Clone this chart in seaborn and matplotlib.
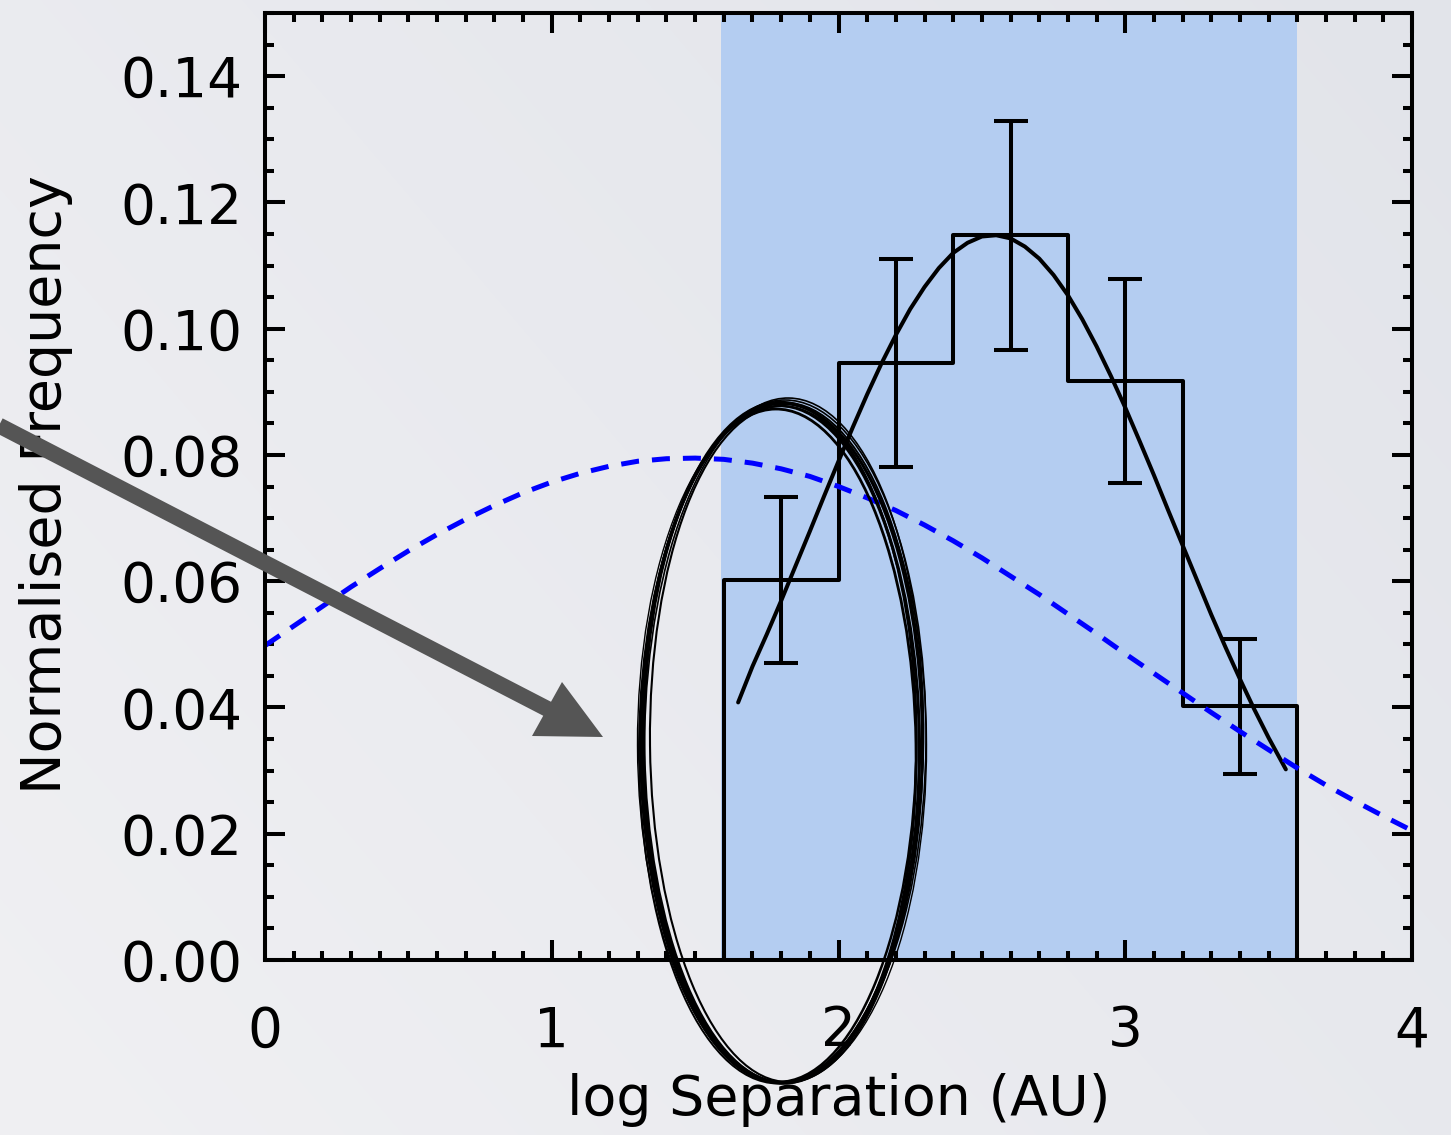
import numpy as np
import matplotlib
matplotlib.use("Agg")
import matplotlib.pyplot as plt
import seaborn as sns
from matplotlib.patches import Polygon, Ellipse
from matplotlib.lines import Line2D
from matplotlib.transforms import IdentityTransform
from matplotlib.ticker import MultipleLocator, FixedLocator

# ---------------- data ----------------
bin_edges = [1.6, 2.0, 2.4, 2.8, 3.2, 3.6]
bin_centers = [1.8, 2.2, 2.6, 3.0, 3.4]
bin_freq = [0.0602, 0.0946, 0.1148, 0.0917, 0.0402]
err_upper = [0.0734, 0.1111, 0.1329, 0.1079, 0.0508]
err_lower = [0.0471, 0.0781, 0.0966, 0.0755, 0.0295]

fit_x = [1.65, 1.70, 1.75, 1.80, 1.85, 1.90, 1.95, 2.00, 2.05, 2.10,
         2.15, 2.20, 2.25, 2.30, 2.35, 2.40, 2.45, 2.50, 2.55, 2.60,
         2.65, 2.70, 2.75, 2.80, 2.85, 2.90, 2.95, 3.00, 3.05, 3.10,
         3.15, 3.20, 3.25, 3.30, 3.35, 3.40, 3.45, 3.50, 3.56]
fit_y = [0.0408, 0.0465, 0.0516, 0.0569, 0.0624, 0.0679, 0.0735, 0.0790, 0.0844, 0.0896,
         0.0945, 0.0990, 0.1031, 0.1066, 0.1096, 0.1120, 0.1136, 0.1146, 0.1148, 0.1143,
         0.1130, 0.1111, 0.1085, 0.1053, 0.1015, 0.0972, 0.0925, 0.0875, 0.0822, 0.0768,
         0.0712, 0.0657, 0.0602, 0.0547, 0.0495, 0.0445, 0.0397, 0.0352, 0.0302]

field_x = [0.0, 0.1, 0.2, 0.3, 0.4, 0.5, 0.6, 0.7, 0.8, 0.9,
           1.0, 1.1, 1.2, 1.3, 1.4, 1.5, 1.6, 1.7, 1.8, 1.9,
           2.0, 2.1, 2.2, 2.3, 2.4, 2.5, 2.6, 2.7, 2.8, 2.9,
           3.0, 3.1, 3.2, 3.3, 3.4, 3.5, 3.6, 3.7, 3.8, 3.9, 4.0]
field_y = [0.0498, 0.0529, 0.0560, 0.0591, 0.0620, 0.0648, 0.0674, 0.0698, 0.0720, 0.0740,
           0.0757, 0.0771, 0.0782, 0.0790, 0.0794, 0.0795, 0.0793, 0.0787, 0.0778, 0.0766,
           0.0750, 0.0732, 0.0712, 0.0689, 0.0664, 0.0637, 0.0608, 0.0579, 0.0548, 0.0517,
           0.0485, 0.0454, 0.0423, 0.0392, 0.0362, 0.0333, 0.0304, 0.0277, 0.0252, 0.0228, 0.0205]

survey_range = [1.59, 3.6]
x_ticks = [0, 1, 2, 3, 4]
y_ticks = [0.00, 0.02, 0.04, 0.06, 0.08, 0.10, 0.12, 0.14]
x_label = "log Separation (AU)"
y_label = "Normalised Frequency"

# ---------------- style ----------------
sns.set_theme(style="ticks")
plt.rcParams['font.family'] = ['DejaVu Sans']

W, H = 1451, 1135
fig = plt.figure(figsize=(W / 100, H / 100), dpi=100)

# soft gradient background
yy, xx = np.mgrid[0:H, 0:W]
t = 0.6 * (xx / W) + 0.4 * (1 - yy / H)
light = np.array([240, 240, 243]) / 255.0
dark = np.array([226, 228, 234]) / 255.0
bg = light[None, None, :] * (1 - t[..., None]) + dark[None, None, :] * t[..., None]
fig.figimage(bg, xo=0, yo=0, zorder=-1)

ax = fig.add_axes([265 / W, (H - 960) / H, (1412 - 265) / W, (960 - 13) / H])
ax.set_facecolor("none")

ax.axvspan(survey_range[0], survey_range[1], color="#b4cdf1", lw=0, zorder=0)

sns.histplot(x=bin_centers, weights=bin_freq, bins=bin_edges, element="step",
             fill=False, color="black", linewidth=2.9, ax=ax, zorder=2)
# outer edges of the histogram down to the baseline
ax.vlines([bin_edges[0], bin_edges[-1]], 0, [bin_freq[0], bin_freq[-1]],
          color="black", linewidth=2.9, zorder=2)

yerr = [np.array(bin_freq) - np.array(err_lower), np.array(err_upper) - np.array(bin_freq)]
ax.errorbar(bin_centers, bin_freq, yerr=yerr, fmt="none", ecolor="black",
            elinewidth=2.9, capsize=12, capthick=2.9, zorder=3)

sns.lineplot(x=fit_x, y=fit_y, color="black", linewidth=2.9, ax=ax, zorder=3)
sns.lineplot(x=field_x, y=field_y, color="#0000ff", linewidth=3.6, ax=ax, zorder=4)
ax.lines[-1].set_dashes([3.6, 2.6])

ax.set_xlim(0, 4)
ax.set_ylim(0, 0.15)
ax.xaxis.set_major_locator(FixedLocator(x_ticks))
ax.xaxis.set_minor_locator(MultipleLocator(0.1))
ax.set_yticks(y_ticks)
ax.set_yticklabels([f"{v:.2f}" for v in y_ticks])
ax.yaxis.set_minor_locator(MultipleLocator(0.005))

ax.tick_params(which="both", direction="in", top=True, right=True,
               width=2.9, color="black", labelcolor="black")
ax.tick_params(which="major", length=14.4, labelsize=39.5)
ax.tick_params(which="minor", length=6.5)
ax.tick_params(axis="x", which="major", pad=32)
ax.tick_params(axis="y", which="major", pad=16.5)
for sp in ax.spines.values():
    sp.set_visible(True)
    sp.set_linewidth(2.9)
    sp.set_color("black")
    sp.set_zorder(5)

ax.set_xlabel(x_label, fontsize=40, color="black")
ax.xaxis.label.set_va("center")
ax.xaxis.set_label_coords(0.5, (960 - 1100) / 947)
ax.set_ylabel(y_label, fontsize=40, color="black")
ax.yaxis.label.set_va("center")
ax.yaxis.set_label_coords((46 - 265) / 1147, (960 - 485) / 947)

# ---------------- annotations (figure pixel coords) ----------------
ident = IdentityTransform()
arrow_col = "#555555"
shaft = Line2D([-5, 553], [H - 423.4, H - 711.8], color=arrow_col, lw=11.5,
               solid_capstyle="butt", transform=ident, zorder=10)
fig.add_artist(shaft)
head = Polygon([(603, H - 737), (532, H - 736), (562, H - 682)], closed=True,
               facecolor=arrow_col, edgecolor="none", transform=ident, zorder=10)
fig.add_artist(head)

strokes = [
    (782, 743, 281, 679, 0.0, 2.2),
    (781, 744, 276, 676, 0.4, 1.6),
    (783, 741, 286, 682, -0.4, 1.2),
    (780, 746, 272, 674, 0.8, 2.0),
    (784, 740, 279, 684, -0.8, 1.2),
    (782, 745, 289, 678, 0.2, 1.0),
    (779, 742, 275, 680, -0.2, 1.8),
    (785, 744, 270, 676, 0.6, 1.5),
    (781, 743, 284, 681, -0.6, 1.4),
]
for cx, cy, ew, eh, ang, lw in strokes:
    fig.add_artist(Ellipse((cx, H - cy), ew, eh, angle=ang, fill=False,
                           edgecolor="black", lw=lw, transform=ident, zorder=11))

fig.savefig("out.png", dpi=100)
